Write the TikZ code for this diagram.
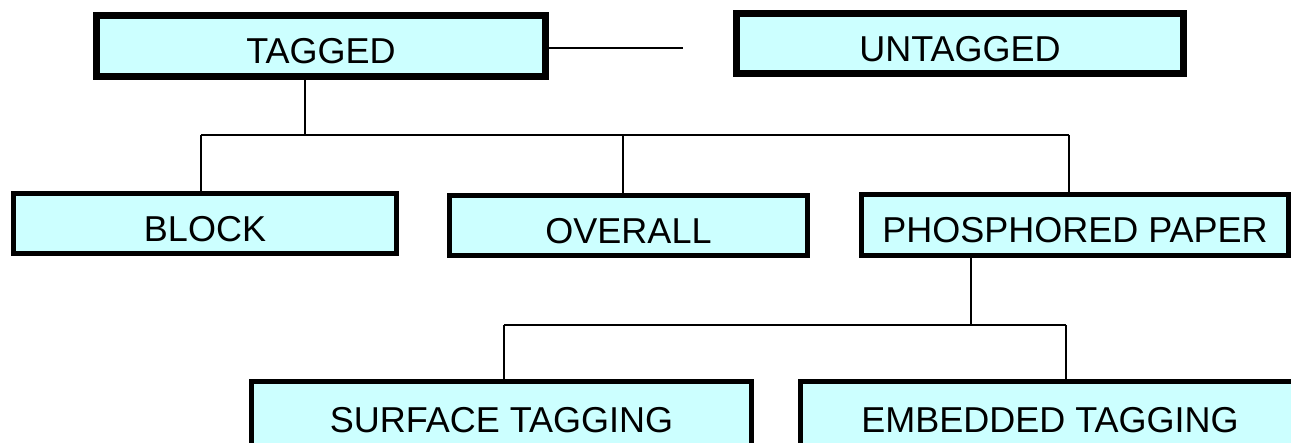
\documentclass[tikz,border=0pt]{standalone}
\usepackage{fontspec}
\setmainfont{Liberation Sans}
\definecolor{boxfill}{HTML}{CCFFFF}

\begin{document}
\begin{tikzpicture}[x = 1pt, y = -1pt,
    box/.style = {draw, fill = boxfill, line width = 5pt, text height = 36pt, text depth = 0pt,
                  inner sep = 0pt, font = \fontsize{36}{42}\selectfont},
    topbox/.style = {box, line width = 7pt},
    wire/.style = {line width = 1.5pt}]
    \clip (0, 0) rectangle (1291, 443);
    \fill [white] (0, 0) rectangle (1291, 443);
    \node (tagged)   at ( 321,  46)  [topbox, minimum width = 449pt, minimum height = 61pt] {TAGGED};
    \node (untagged) at ( 960,  43.5)[topbox, minimum width = 447pt, minimum height = 60pt] {UNTAGGED};
    \node (block)    at ( 205, 223.5)[box, minimum width = 383pt, minimum height = 60pt] {BLOCK};
    \node (overall)  at ( 628.5, 225.5)[box, minimum width = 358pt, minimum height = 60pt] {OVERALL};
    \node (phos)     at (1075, 225)  [box, minimum width = 427pt, minimum height = 61pt] {PHOSPHORED PAPER};
    \node (surface)  at ( 501.5, 414.5)[box, minimum width = 500pt, minimum height = 66pt] {SURFACE TAGGING};
    \node (embedded) at (1050, 414.5)[box, minimum width = 499pt, minimum height = 66pt] {EMBEDDED TAGGING};
    \coordinate (tagEnd) at ( 683,  48);
    \coordinate (jTag)   at ( 305, 135);
    \coordinate (jBlock) at ( 201, 135);
    \coordinate (jOver)  at ( 623, 135);
    \coordinate (jPhos)  at (1069, 135);
    \coordinate (jSub)   at ( 971, 325);
    \coordinate (jSurf)  at ( 504, 325);
    \coordinate (jEmb)   at (1066, 325);
    \draw [wire] (tagEnd -| tagged.east)--(tagEnd);
    \draw [wire] (jTag |- tagged.south)--(jTag);
    \draw [wire] (jBlock)--(jPhos);
    \draw [wire] (jBlock)--(jBlock |- block.north);
    \draw [wire] (jOver)--(jOver |- overall.north);
    \draw [wire] (jPhos)--(jPhos |- phos.north);
    \draw [wire] (jSub |- phos.south)--(jSub);
    \draw [wire] (jSurf)--(jEmb);
    \draw [wire] (jSurf)--(jSurf |- surface.north);
    \draw [wire] (jEmb)--(jEmb |- embedded.north);
  \end{tikzpicture}
\end{document}
